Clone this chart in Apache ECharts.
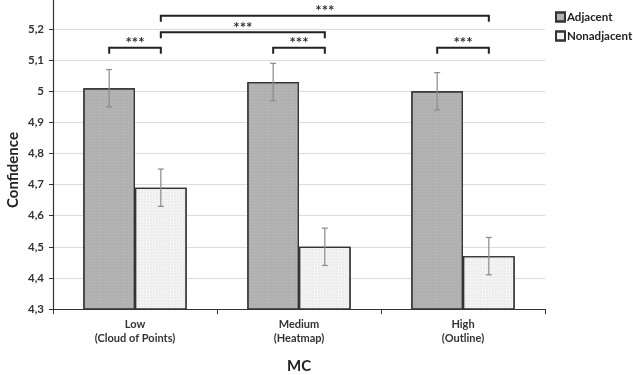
<!DOCTYPE html>
<html>
<head>
<meta charset="utf-8">
<script src="https://cdn.jsdelivr.net/npm/echarts@6/dist/echarts.min.js"></script>
<style>
  html, body { margin: 0; padding: 0; background: #fff; }
  #chart { width: 633px; height: 375px; }
</style>
</head>
<body>
<div id="chart"></div>
<script>
const chart = echarts.init(document.getElementById('chart'));

const categories = ['Low\n(Cloud of Points)', 'Medium\n(Heatmap)', 'High\n(Outline)'];
const adjacent = [5.01, 5.03, 5.00];
const nonadjacent = [4.69, 4.50, 4.47];
const adjacentErr = [0.06, 0.06, 0.06];
const nonadjacentErr = [0.06, 0.06, 0.06];
// significance brackets: [fromCategory, fromSeries, toCategory, toSeries, level]
const brackets = [
  [0, 0, 0, 1, 5.14],
  [1, 0, 1, 1, 5.14],
  [2, 0, 2, 1, 5.14],
  [0, 1, 1, 1, 5.19],
  [0, 1, 2, 1, 5.243]
];

const FONT = 'Lato';
const barFrac = 0.315; // each bar's share of the category band

const errData = [];
for (let i = 0; i < categories.length; i++) {
  errData.push([i, adjacent[i] - adjacentErr[i], adjacent[i] + adjacentErr[i], 0]);
  errData.push([i, nonadjacent[i] - nonadjacentErr[i], nonadjacent[i] + nonadjacentErr[i], 1]);
}

function barOffset(api, s) {
  const band = api.size([1, 0])[0];
  return (s === 0 ? -1 : 1) * band * barFrac / 2;
}

const option = {
  animation: false,
  textStyle: { fontFamily: FONT },
  grid: { left: 53, right: 88, top: -2, bottom: 66, outerBoundsMode: 'none', containLabel: false },
  legend: {
    orient: 'vertical',
    left: 550,
    top: 6,
    icon: 'rect',
    itemWidth: 9,
    itemHeight: 9,
    itemGap: 7,
    textStyle: { fontFamily: FONT, fontWeight: 'bold', fontSize: 11.5, color: '#222', padding: [0, 0, 0, -3] },
    data: ['Adjacent', 'Nonadjacent']
  },
  xAxis: {
    type: 'category',
    data: categories,
    name: 'MC',
    nameLocation: 'middle',
    nameGap: 50,
    nameTextStyle: { fontFamily: FONT, fontWeight: 'bold', fontSize: 15, color: '#222' },
    axisLine: { lineStyle: { color: '#333', width: 1.2 } },
    axisTick: { show: true, length: 5, lineStyle: { color: '#333' } },
    axisLabel: { fontFamily: FONT, fontWeight: 'bold', fontSize: 11, color: '#333', lineHeight: 14, margin: 8 }
  },
  yAxis: {
    type: 'value',
    min: 4.3,
    max: 5.3,
    interval: 0.1,
    axisLine: { show: true, lineStyle: { color: '#333', width: 1.2 } },
    axisTick: { show: true, length: 4, lineStyle: { color: '#333' } },
    splitLine: { lineStyle: { color: '#dcdcdc' } },
    axisLabel: {
      fontFamily: FONT, fontWeight: 'bold', fontSize: 11.5, color: '#333', margin: 9, showMaxLabel: false,
      formatter: function (v) {
        const r = Math.round(v * 10) / 10;
        return (Number.isInteger(r) ? String(r) : r.toFixed(1)).replace('.', ',');
      }
    }
  },
  graphic: [
    {
      type: 'text',
      x: 13,
      y: 170,
      rotation: Math.PI / 2,
      style: {
        text: 'Confidence',
        font: 'bold 15px ' + FONT,
        fill: '#222',
        textAlign: 'center',
        textVerticalAlign: 'middle'
      }
    }
  ],
  series: [
    {
      name: 'Adjacent',
      type: 'bar',
      data: adjacent,
      barGap: '0%',
      barCategoryGap: '37%',
      itemStyle: {
        color: '#b4b4b4',
        borderColor: '#333',
        borderWidth: 1.2,
        decal: { symbol: 'circle', symbolSize: 0.6, color: 'rgba(120,120,120,0.35)', dashArrayX: [2, 1], dashArrayY: [2, 1] }
      }
    },
    {
      name: 'Nonadjacent',
      type: 'bar',
      data: nonadjacent,
      itemStyle: {
        color: '#f4f4f4',
        borderColor: '#333',
        borderWidth: 1.2,
        decal: { symbol: 'circle', symbolSize: 0.6, color: 'rgba(150,150,150,0.35)', dashArrayX: [2, 1], dashArrayY: [2, 1] }
      }
    },
    {
      type: 'custom',
      name: 'err',
      data: errData,
      z: 5,
      silent: true,
      encode: { x: 0, y: [1, 2] },
      renderItem: function (params, api) {
        const c = api.value(0);
        const lo = api.coord([c, api.value(1)]);
        const hi = api.coord([c, api.value(2)]);
        const x = lo[0] + barOffset(api, api.value(3));
        const cap = 3;
        const st = { stroke: '#8a8a8a', lineWidth: 1.2 };
        return {
          type: 'group',
          children: [
            { type: 'line', shape: { x1: x, y1: lo[1], x2: x, y2: hi[1] }, style: st },
            { type: 'line', shape: { x1: x - cap, y1: lo[1], x2: x + cap, y2: lo[1] }, style: st },
            { type: 'line', shape: { x1: x - cap, y1: hi[1], x2: x + cap, y2: hi[1] }, style: st }
          ]
        };
      }
    },
    {
      type: 'custom',
      name: 'sig',
      data: brackets,
      z: 6,
      silent: true,
      clip: false,
      encode: { x: 0, y: 4 },
      renderItem: function (params, api) {
        const a = api.coord([api.value(0), api.value(4)]);
        const b = api.coord([api.value(2), api.value(4)]);
        const x1 = a[0] + barOffset(api, api.value(1));
        const x2 = b[0] + barOffset(api, api.value(3));
        const y = a[1];
        const drop = 6;
        return {
          type: 'group',
          children: [
            {
              type: 'polyline',
              shape: { points: [[x1, y + drop], [x1, y], [x2, y], [x2, y + drop]] },
              style: { stroke: '#222', lineWidth: 2, fill: null }
            },
            {
              type: 'text',
              style: {
                text: '***',
                x: (x1 + x2) / 2,
                y: y + 3,
                textAlign: 'center',
                textVerticalAlign: 'bottom',
                font: 'bold 15px ' + FONT,
                fill: '#333'
              }
            }
          ]
        };
      }
    }
  ]
};

chart.setOption(option);
window.addEventListener('resize', function () { chart.resize(); });
</script>
</body>
</html>
